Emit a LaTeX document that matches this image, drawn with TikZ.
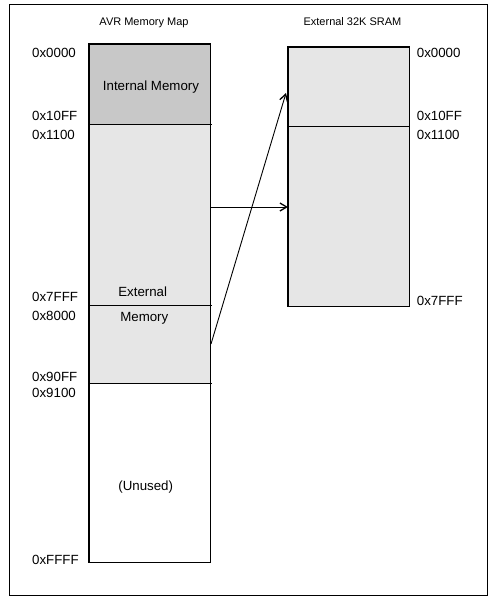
\documentclass[tikz,border=0pt]{standalone}
\usepackage{fontspec}
\setmainfont{Liberation Sans}
\usetikzlibrary{arrows.meta, positioning}
\definecolor{intgray}{RGB}{200,200,200}
\definecolor{extgray}{RGB}{230,230,230}

\begin{document}
\begin{tikzpicture}[x=1pt, y=-1pt,
      region/.style={draw=none, inner sep=0pt, anchor=north west, minimum width=121pt},
      outline/.style={line width=1.7pt},
      divider/.style={line width=0.8pt},
      addr/.style={inner sep=0pt, font=\fontsize{13.3}{15}\selectfont},
      title/.style={inner sep=0pt, anchor=base, font=\fontsize{11}{13}\selectfont},
      lbl/.style={inner sep=0pt, anchor=base, font=\fontsize{13.3}{15}\selectfont},
      arrow/.style={-{Straight Barb[length=2.4mm, width=2.8mm, line width=1.3pt]}, line width=0.9pt}
    ]
    \useasboundingbox (0,0) rectangle (496,603);
    \draw[line width=1pt] (9,4) rectangle (487,595);

    % AVR memory map
    \node[region, fill=intgray, minimum height=80pt] (internal) at (89,44) {};
    \node[region, fill=extgray, minimum height=259pt] (extmem) at (89,124) {};
    \node[region, fill=white, minimum height=179pt] (unused) at (89,383) {};
    \draw[divider] (internal.south west) -- ([xshift=2pt]internal.south east);
    \draw[divider] (89,305) -- (212,305);
    \draw[divider] (extmem.south west) -- ([xshift=2pt]extmem.south east);
    \draw[outline] (internal.north west) rectangle (unused.south east);

    % external SRAM
    \node[region, fill=extgray, minimum height=259pt] (sram) at (288,47) {};
    \draw[divider] (288,126) -- (409,126);
    \draw[outline] (sram.north west) rectangle (sram.south east);

    \node[title] (avrtitle) at (144,25) {AVR Memory Map};
    \node[title] (sramtitle) at (352.5,25) {External 32K SRAM};

    \node[lbl] (intlbl) at (151,90.5) {Internal Memory};
    \node[lbl] (extlbl) at (142.7,296) {External};
    \node[lbl] (memlbl) at (144.3,321) {Memory};
    \node[lbl] (unusedlbl) at (145.7,490) {(Unused)};

    % addresses
    \foreach \y/\txt in {57.3/0x0000, 120.7/0x10FF, 139.3/0x1100, 301.7/0x7FFF,
                        320/0x8000, 381/0x90FF, 397.7/0x9100, 564/0xFFFF}
      \node[addr, anchor=base west] at (32,\y) {\txt};
    \foreach \y/\txt in {57.3/0x0000, 120.7/0x10FF, 139.3/0x1100, 305/0x7FFF}
      \node[addr, anchor=base west] at (416.7,\y) {\txt};

    \coordinate (src1) at (210,207);
    \coordinate (src2) at (211,344);
    \coordinate (dst2) at (286,93);
    \draw[arrow] (src1) -- (sram.west |- src1);
    \draw[arrow] (src2) -- (dst2);
  \end{tikzpicture}
\end{document}
